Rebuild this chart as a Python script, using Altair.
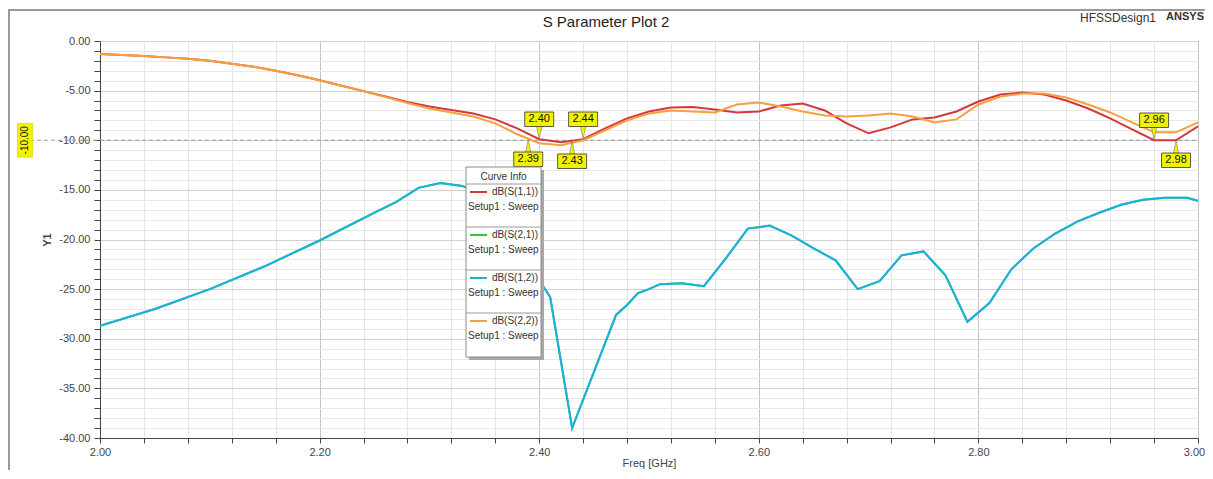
import altair as alt
import pandas as pd

W, H = 1098, 397
FONT = "Liberation Sans"

# ---------------- data ----------------
series = ["dB(S(1,1))", "dB(S(2,1))", "dB(S(1,2))", "dB(S(2,2))"]
colors = ["#d8363c", "#35c435", "#1ab0e6", "#f5a03e"]

freq_s11 = [2.00, 2.02, 2.04, 2.06, 2.08, 2.10, 2.12, 2.14, 2.16, 2.18, 2.20, 2.22, 2.24,
            2.26, 2.28, 2.30, 2.32, 2.34, 2.36, 2.38, 2.40, 2.42, 2.44, 2.46, 2.48, 2.50,
            2.52, 2.54, 2.56, 2.58, 2.60, 2.62, 2.64, 2.66, 2.68, 2.70, 2.72, 2.74, 2.76,
            2.78, 2.80, 2.82, 2.84, 2.86, 2.88, 2.90, 2.92, 2.94, 2.96, 2.98, 3.00]
db_s11 = [-1.3, -1.4, -1.5, -1.65, -1.8, -2.0, -2.3, -2.6, -3.0, -3.45, -3.95, -4.5, -5.05,
          -5.6, -6.15, -6.6, -6.95, -7.3, -7.9, -8.8, -9.9, -10.2, -9.9, -8.8, -7.8, -7.1,
          -6.7, -6.65, -6.9, -7.2, -7.1, -6.5, -6.3, -7.0, -8.3, -9.3, -8.7, -7.9, -7.7,
          -7.1, -6.1, -5.4, -5.2, -5.4, -6.0, -6.8, -7.8, -8.9, -10.0, -10.0, -8.6]

freq_s22 = [2.00, 2.02, 2.04, 2.06, 2.08, 2.10, 2.12, 2.14, 2.16, 2.18, 2.20, 2.22, 2.24,
            2.26, 2.28, 2.30, 2.32, 2.34, 2.36, 2.38, 2.40, 2.42, 2.44, 2.46, 2.48, 2.50,
            2.52, 2.54, 2.56, 2.58, 2.60, 2.62, 2.64, 2.66, 2.68, 2.70, 2.72, 2.74, 2.76,
            2.78, 2.80, 2.82, 2.84, 2.86, 2.88, 2.90, 2.92, 2.94, 2.96, 2.98, 3.00]
db_s22 = [-1.3, -1.4, -1.5, -1.65, -1.8, -2.0, -2.3, -2.6, -3.0, -3.45, -3.95, -4.5, -5.05,
          -5.65, -6.25, -6.8, -7.2, -7.6, -8.3, -9.4, -10.3, -10.5, -10.0, -9.0, -8.0, -7.3,
          -7.0, -7.1, -7.2, -6.4, -6.2, -6.6, -7.1, -7.5, -7.6, -7.5, -7.3, -7.6, -8.2,
          -7.9, -6.4, -5.6, -5.3, -5.3, -5.7, -6.4, -7.2, -8.2, -9.2, -9.2, -8.2]

freq_s12 = [2.00, 2.05, 2.10, 2.15, 2.20, 2.25, 2.27, 2.29, 2.31, 2.33, 2.35, 2.37, 2.39,
            2.40, 2.41, 2.43, 2.47, 2.48, 2.49, 2.50, 2.51, 2.53, 2.55, 2.57, 2.59, 2.61,
            2.63, 2.65, 2.67, 2.69, 2.71, 2.73, 2.75, 2.77, 2.79, 2.81, 2.83, 2.85, 2.87,
            2.89, 2.91, 2.93, 2.95, 2.97, 2.99, 3.00]
db_s12 = [-28.7, -27.0, -25.0, -22.7, -20.1, -17.3, -16.2, -14.8, -14.3, -14.6, -15.6, -17.8, -21.5,
          -24.1, -25.8, -39.0, -27.6, -26.6, -25.4, -25.0, -24.5, -24.4, -24.7, -21.9, -18.9, -18.6,
          -19.6, -20.9, -22.1, -25.0, -24.2, -21.6, -21.2, -23.6, -28.3, -26.4, -23.0, -20.9, -19.4,
          -18.2, -17.3, -16.5, -16.0, -15.8, -15.8, -16.1]

# S(2,1) lies exactly under S(1,2) in the picture
freq_s21 = list(freq_s12)
db_s21 = list(db_s12)

marker_freq = [2.40, 2.44, 2.96, 2.39, 2.43, 2.98]
marker_db = [-9.9, -9.9, -10.0, -9.9, -10.1, -10.0]
marker_label = ["2.40", "2.44", "2.96", "2.39", "2.43", "2.98"]
marker_side = ["above", "above", "above", "below", "below", "below"]

x_ticks = [round(2.0 + 0.04 * i, 2) for i in range(26)]
y_ticks = list(range(-40, 1))
ref_level = [-10]
ref_label = ["-10.00"]

title_text = "S Parameter Plot 2"
design_text = "HFSSDesign1"
brand_text = "ANSYS"
legend_title = "Curve Info"
setup_text = "Setup1 : Sweep"

# ---------------- tables ----------------
curves = {
    series[0]: (freq_s11, db_s11),
    series[1]: (freq_s21, db_s21),
    series[2]: (freq_s12, db_s12),
    series[3]: (freq_s22, db_s22),
}

markers = pd.DataFrame({"freq": marker_freq, "db": marker_db,
                        "label": marker_label, "side": marker_side})
one = pd.DataFrame({"a": [0]})

MAJOR_X = "abs(datum.value*5 - round(datum.value*5)) < 1e-6"

# ---------------- axes ----------------
xaxis = alt.Axis(
    values=x_ticks,
    labelExpr=MAJOR_X + " ? format(datum.value, '.2f') : ''",
    title="Freq [GHz]", grid=True,
    gridColor={"condition": {"test": MAJOR_X, "value": "#c4c4c4"}, "value": "#e6e6e6"},
    tickSize=5, tickColor="#444", domainColor="#444",
    labelFont=FONT, labelFontSize=11, labelColor="#444", labelPadding=3,
    labelFlush=False, labelOverlap=False, labelBound=False,
    labelOffset={"condition": {"test": "datum.value > 2.99", "value": -4}, "value": 0},
    titleFont=FONT, titleFontSize=11, titleFontWeight="normal", titleColor="#444",
    titleBaseline="alphabetic", titleY=28,
)
yaxis = alt.Axis(
    values=y_ticks,
    labelExpr="datum.value % 5 == 0 ? replace(format(datum.value, '.2f'), '\u2212', '-') : ''",
    title="Y1", grid=True,
    gridColor={"condition": {"test": "datum.value % 5 == 0", "value": "#d0d0d0"},
               "value": "#e8e8e8"},
    tickSize=6, tickColor="#444", domainColor="#444",
    labelFont=FONT, labelFontSize=11, labelColor="#444", labelPadding=4,
    labelFlush=False, labelOverlap=False, labelBound=False,
    titleFont=FONT, titleFontSize=11, titleFontWeight="bold", titleColor="#444",
    titlePadding=6,
)
xenc = alt.X("freq:Q", scale=alt.Scale(domain=[2, 3], nice=False, zero=False), axis=xaxis)
yenc = alt.Y("db:Q", scale=alt.Scale(domain=[-40, 0], nice=False, zero=False), axis=yaxis)

layers = []

# outer frame (top and left edges)
layers.append(alt.Chart(one).mark_rule(color="#999", strokeWidth=2).encode(
    x=alt.value(-92), x2=alt.value(W + 8), y=alt.value(-31)))
layers.append(alt.Chart(one).mark_rule(color="#999", strokeWidth=2).encode(
    x=alt.value(-91), y=alt.value(-31), y2=alt.value(H + 40)))

# reference line at -10 dB
ref_df = pd.DataFrame({"db": ref_level, "label": ref_label})
layers.append(alt.Chart(ref_df).mark_rule(color="#9a9a9a", strokeDash=[4, 3], strokeWidth=1).encode(
    x=alt.value(-70), x2=alt.value(W), y=yenc))

# curves
for name, col in zip(series, colors):
    f, d = curves[name]
    df = pd.DataFrame({"freq": f, "db": d, "series": name})
    layers.append(alt.Chart(df).mark_line(color=col, strokeWidth=2, clip=True).encode(
        x=xenc, y=yenc))

# -10.00 yellow tag on the left
layers.append(alt.Chart(ref_df).mark_point(
    shape="M-0.45,-1H0.45V1H-0.45Z", size=34 * 34, filled=True, fill="#f2f200",
    opacity=1, stroke="#c8c800", strokeWidth=0.5).encode(x=alt.value(-75), y=yenc))
layers.append(alt.Chart(ref_df).mark_text(
    angle=270, font=FONT, fontSize=10, color="#222").encode(
    x=alt.value(-75), y=yenc, text="label:N"))

# markers
for side, tri_path, tri_off, box_off in [
    ("above", "M-0.4,-1L0.4,-1L0,1Z", -6.5, -20),
    ("below", "M-0.4,1L0.4,1L0,-1Z", 6.5, 20),
]:
    base = alt.Chart(markers).transform_filter(alt.datum.side == side)
    layers.append(base.mark_point(
        shape=tri_path, size=13 * 13, filled=True, fill="#f2f200", opacity=1,
        stroke="#777", strokeWidth=0.6, yOffset=tri_off).encode(x=xenc, y=yenc))
    layers.append(base.mark_point(
        shape="M-1,-0.5H1V0.5H-1Z", size=29 * 29, filled=True, fill="#f2f200", opacity=1,
        stroke="#333", strokeWidth=0.8, yOffset=box_off).encode(x=xenc, y=yenc))
    layers.append(base.mark_text(
        font=FONT, fontSize=11, color="#111", yOffset=box_off).encode(
        x=xenc, y=yenc, text="label:N"))

# legend "Curve Info"
LX0, LX1, LY0, LY1 = 366, 441, 126, 316
layers.append(alt.Chart(one).mark_rect(fill="#a8a8a8").encode(
    x=alt.value(LX0 + 3), x2=alt.value(LX1 + 3), y=alt.value(LY0 + 3), y2=alt.value(LY1 + 3)))
layers.append(alt.Chart(one).mark_rect(fill="white", stroke="#8a8a8a", strokeWidth=1).encode(
    x=alt.value(LX0), x2=alt.value(LX1), y=alt.value(LY0), y2=alt.value(LY1)))
layers.append(alt.Chart(pd.DataFrame({"t": [legend_title]})).mark_text(
    font=FONT, fontSize=10, color="#333").encode(
    x=alt.value((LX0 + LX1) / 2), y=alt.value(LY0 + 10), text="t:N"))

leg = pd.DataFrame({
    "name": series, "color": colors,
    "ysw": [LY0 + 25 + 43 * i for i in range(4)],
    "ysub": [LY0 + 40 + 43 * i for i in range(4)],
    "ysep": [LY0 + 17 + 43 * i for i in range(4)],
    "setup": [setup_text] * 4,
})
layers.append(alt.Chart(leg).mark_rule(color="#9a9a9a", strokeWidth=1).encode(
    x=alt.value(LX0), x2=alt.value(LX1), y=alt.Y("ysep:Q", scale=None)))
layers.append(alt.Chart(leg).mark_rule(strokeWidth=2).encode(
    x=alt.value(LX0 + 4), x2=alt.value(LX0 + 21), y=alt.Y("ysw:Q", scale=None),
    color=alt.Color("color:N", scale=None)))
layers.append(alt.Chart(leg).mark_text(font=FONT, fontSize=10, color="#333", align="right").encode(
    x=alt.value(LX1 - 3), y=alt.Y("ysw:Q", scale=None), text="name:N"))
layers.append(alt.Chart(leg).mark_text(font=FONT, fontSize=10, color="#333", align="left").encode(
    x=alt.value(LX0 + 2), y=alt.Y("ysub:Q", scale=None), text="setup:N"))

# titles
layers.append(alt.Chart(pd.DataFrame({"t": [title_text]})).mark_text(
    font=FONT, fontSize=15, color="#222").encode(
    x=alt.value(506), y=alt.value(-19), text="t:N"))
layers.append(alt.Chart(pd.DataFrame({"t": [design_text]})).mark_text(
    font=FONT, fontSize=12, color="#333").encode(
    x=alt.value(1018), y=alt.value(-23), text="t:N"))
layers.append(alt.Chart(pd.DataFrame({"t": [brand_text]})).mark_text(
    font=FONT, fontSize=11, fontWeight="bold", color="#333", align="right").encode(
    x=alt.value(1104), y=alt.value(-24), text="t:N"))

chart = alt.layer(*layers).properties(
    width=W, height=H,
    padding={"left": 92, "top": 33, "right": 7, "bottom": 32},
    autosize=alt.AutoSizeParams(type="none"),
    background="white",
).configure_view(stroke="#8a8a8a", strokeWidth=1)

chart.save("out.html", embed_options={"renderer": "svg", "actions": False})
